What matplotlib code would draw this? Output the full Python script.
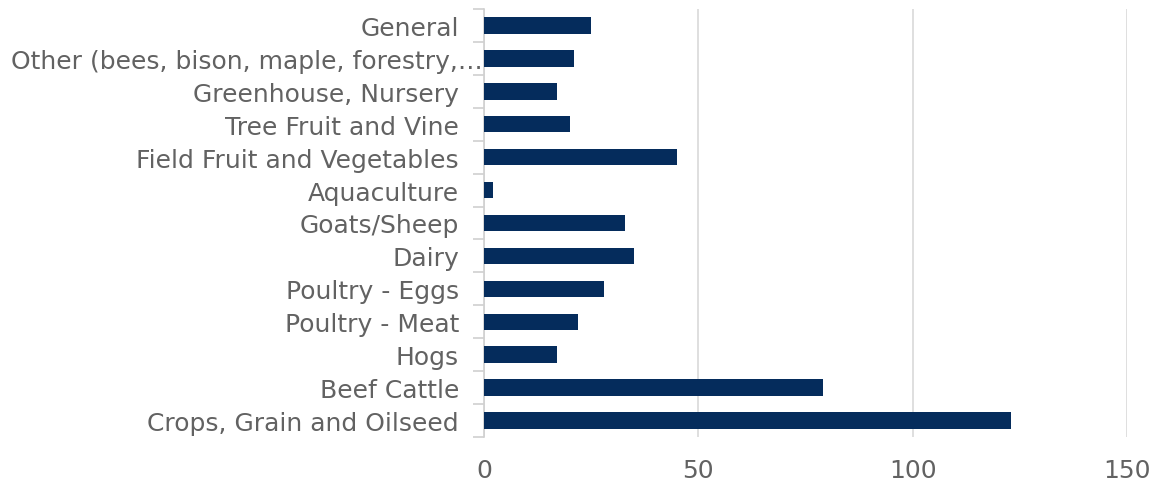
import matplotlib.pyplot as plt
import matplotlib.transforms as mtransforms
import numpy as np

# categories listed bottom to top
categories = [
    "Crops, Grain and Oilseed",
    "Beef Cattle",
    "Hogs",
    "Poultry - Meat",
    "Poultry - Eggs",
    "Dairy",
    "Goats/Sheep",
    "Aquaculture",
    "Field Fruit and Vegetables",
    "Tree Fruit and Vine",
    "Greenhouse, Nursery",
    "Other (bees, bison, maple, forestry,\u2026",
    "General",
]
values = [123, 79, 17, 22, 28, 35, 33, 2, 45, 20, 17, 21, 25]
x_ticks = [0, 50, 100, 150]

plt.rcParams["font.family"] = ["DejaVu Sans"]
text_color = "#626262"

fig = plt.figure(figsize=(11.54, 4.85), dpi=100)
ax = fig.add_axes([484 / 1154, 47 / 485, 643 / 1154, 428 / 485])

y = np.arange(len(categories))
ax.barh(y, values, height=0.5, color="#052C5C", zorder=3)

ax.set_xlim(0, 150)
ax.set_ylim(-0.5, len(categories) - 0.5)

ax.set_xticks(x_ticks)
ax.set_xticklabels([str(t) for t in x_ticks])
ax.xaxis.grid(True, color="#d9d9d9", linewidth=1.2, zorder=0)
ax.tick_params(axis="x", length=0, pad=15, labelsize=18, labelcolor=text_color)

ax.set_yticks(y)
ax.set_yticklabels(categories)
ax.set_yticks(np.arange(-0.5, len(categories)), minor=True)
ax.tick_params(axis="y", which="major", length=0, pad=18, labelsize=18,
               labelcolor=text_color)
ax.tick_params(axis="y", which="minor", length=8, width=1.2, color="#d0d0d0")

# the truncated long label runs up to the axis line, as in the original
long_label = ax.get_yticklabels()[11]
long_label.set_transform(long_label.get_transform() +
                         mtransforms.ScaledTranslation(24 / 100, 0, fig.dpi_scale_trans))

for side in ["top", "right", "bottom"]:
    ax.spines[side].set_visible(False)
ax.spines["left"].set_color("#d0d0d0")
ax.spines["left"].set_linewidth(1.2)

fig.savefig("out.png", dpi=100)
